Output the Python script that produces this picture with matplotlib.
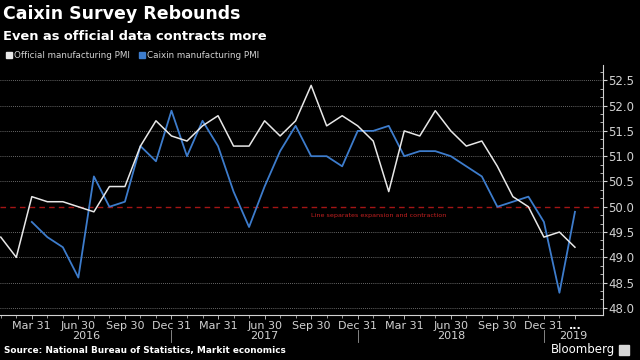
import matplotlib
matplotlib.use("Agg")
import matplotlib.pyplot as plt
import matplotlib.transforms as mtransforms
from matplotlib.patches import Rectangle
from matplotlib.ticker import MultipleLocator, FixedLocator, NullFormatter
import numpy as np

months = ["2016-01", "2016-02", "2016-03", "2016-04", "2016-05", "2016-06",
          "2016-07", "2016-08", "2016-09", "2016-10", "2016-11", "2016-12",
          "2017-01", "2017-02", "2017-03", "2017-04", "2017-05", "2017-06",
          "2017-07", "2017-08", "2017-09", "2017-10", "2017-11", "2017-12",
          "2018-01", "2018-02", "2018-03", "2018-04", "2018-05", "2018-06",
          "2018-07", "2018-08", "2018-09", "2018-10", "2018-11", "2018-12",
          "2019-01", "2019-02"]
official = [49.4, 49.0, 50.2, 50.1, 50.1, 50.0, 49.9, 50.4, 50.4, 51.2, 51.7, 51.4,
            51.3, 51.6, 51.8, 51.2, 51.2, 51.7, 51.4, 51.7, 52.4, 51.6, 51.8, 51.6,
            51.3, 50.3, 51.5, 51.4, 51.9, 51.5, 51.2, 51.3, 50.8, 50.2, 50.0, 49.4,
            49.5, 49.2]
caixin = [np.nan, np.nan, 49.7, 49.4, 49.2, 48.6, 50.6, 50.0, 50.1, 51.2, 50.9, 51.9,
          51.0, 51.7, 51.2, 50.3, 49.6, 50.4, 51.1, 51.6, 51.0, 51.0, 50.8, 51.5,
          51.5, 51.6, 51.0, 51.1, 51.1, 51.0, 50.8, 50.6, 50.0, 50.1, 50.2, 49.7,
          48.3, 49.9]
tick_labels = {2: "Mar 31", 5: "Jun 30", 8: "Sep 30", 11: "Dec 31",
               14: "Mar 31", 17: "Jun 30", 20: "Sep 30", 23: "Dec 31",
               26: "Mar 31", 29: "Jun 30", 32: "Sep 30", 35: "Dec 31", 37: "..."}
years = ["2016", "2017", "2018", "2019"]
year_bounds = [-0.05, 11, 23, 35, 38.8]

BG = "black"
WHITE = "#e8e8e8"
BLUE = "#3d7ccc"
RED = "#a31515"
GREY = "#d2d2d2"

fig = plt.figure(figsize=(6.4, 3.6), dpi=100, facecolor=BG)
ax = fig.add_axes([0.0, 0.125, 0.942, 0.694], facecolor=BG)

x = np.arange(len(months))
ax.plot(x, official, color=WHITE, lw=1.1, zorder=4)
ax.plot(x, caixin, color=BLUE, lw=1.3, zorder=3)

ax.set_xlim(-0.05, 38.8)
ax.set_ylim(47.86, 52.80)

# grid
for v in np.arange(48.0, 52.6, 0.5):
    if abs(v - 50.0) < 1e-6:
        continue
    ax.axhline(v, color="#8a8a8a", lw=0.6, ls=(0, (1, 1.5)), zorder=1)
ax.axhline(50.0, color=RED, lw=1.0, ls=(0, (4, 3)), zorder=2)
ax.text(20.0, 49.82, "Line separates expansion and contraction", color="#c42020",
        fontsize=4.6, va="center", ha="left", zorder=5)

# spines
for s in ["top", "left"]:
    ax.spines[s].set_visible(False)
ax.spines["right"].set_color(GREY)
ax.spines["right"].set_linewidth(0.8)
ax.spines["bottom"].set_color(GREY)
ax.spines["bottom"].set_linewidth(0.8)

# y axis on right
ax.yaxis.tick_right()
ax.yaxis.set_major_locator(MultipleLocator(0.5))
ax.yaxis.set_minor_locator(MultipleLocator(0.5 / 3))
ax.tick_params(axis="y", which="major", direction="out", length=3, width=0.8,
               colors=GREY, labelsize=8.5, pad=1)
ax.tick_params(axis="y", which="minor", direction="in", length=2, width=0.6, colors=GREY)
ax.yaxis.set_major_formatter(matplotlib.ticker.FormatStrFormatter("%.1f"))

# x axis
ax.xaxis.set_major_locator(FixedLocator(sorted(tick_labels.keys())))
ax.xaxis.set_major_formatter(matplotlib.ticker.FixedFormatter(
    [tick_labels[k] for k in sorted(tick_labels.keys())]))
ax.xaxis.set_minor_locator(FixedLocator(list(range(0, 38))))
ax.xaxis.set_minor_formatter(NullFormatter())
ax.tick_params(axis="x", which="major", direction="out", length=3, width=0.6,
               colors=GREY, labelsize=8, pad=1)
ax.tick_params(axis="x", which="minor", direction="out", length=2, width=0.5, colors=GREY)

trans = mtransforms.blended_transform_factory(ax.transData, ax.transAxes)
for i, yr in enumerate(years):
    cx = (year_bounds[i] + year_bounds[i + 1]) / 2
    ax.text(cx, -0.086, yr, transform=trans, ha="center", va="center",
            color=GREY, fontsize=8, clip_on=False)
for b in year_bounds[1:-1]:
    ax.plot([b, b], [-0.06, -0.108], transform=trans, color="#9a9a9a", lw=0.6,
            clip_on=False)

# titles
fig.text(0.005, 0.985, "Caixin Survey Rebounds", color="white", fontsize=12.5,
         fontweight="bold", ha="left", va="top")
fig.text(0.005, 0.918, "Even as official data contracts more", color="white",
         fontsize=9.4, fontweight="bold", ha="left", va="top")

# legend
fig.patches.append(Rectangle((6 / 640, 1 - 58 / 360), 6 / 640, 6 / 360,
                             transform=fig.transFigure, color=WHITE))
fig.text(14 / 640, 1 - 55 / 360, "Official manufacturing PMI", color=GREY,
         fontsize=6.3, ha="left", va="center")
fig.patches.append(Rectangle((139 / 640, 1 - 58 / 360), 6 / 640, 6 / 360,
                             transform=fig.transFigure, color=BLUE))
fig.text(147 / 640, 1 - 55 / 360, "Caixin manufacturing PMI", color=GREY,
         fontsize=6.3, ha="left", va="center")

# footer
fig.text(0.006, 1 - 351 / 360, "Source: National Bureau of Statistics, Markit economics",
         color="white", fontsize=6.4, fontweight="bold", ha="left", va="center")
fig.text(615 / 640, 1 - 350 / 360, "Bloomberg", color="white", fontsize=8.5,
         ha="right", va="center")
fig.patches.append(Rectangle((619 / 640, 1 - 355 / 360), 10 / 640, 10 / 360,
                             transform=fig.transFigure, color="#d8d8d8"))

fig.canvas.draw()
for lab in ax.get_xticklabels():
    if lab.get_text() == "...":
        lab.set_fontweight("bold")
        lab.set_color("white")

fig.savefig("out.png", dpi=100, facecolor=BG)
